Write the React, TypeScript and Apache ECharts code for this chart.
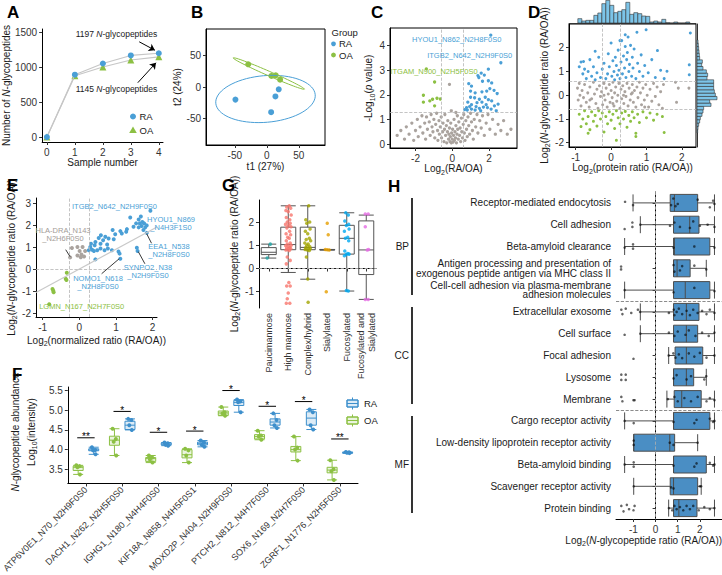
import React, { useEffect, useRef } from 'react';
import * as echarts from 'echarts';

const FONT = '"Liberation Sans", Arial, Helvetica, sans-serif';
const BLUE = '#4a9fd6';
const BLUE_F = '#3d8fcc';
const GREEN = '#8cc043';
const GRAY = '#aaa39e';
const GRAY_TXT = '#a39c97';
const HBOX = '#4a8ec4';
const HIST = '#7cc4e8';
const INK = '#1a1a1a';
const TICK = '#333';

// ---------------- A: cumulative identifications ----------------
const sampleNumbers = [0, 1, 2, 3, 4];
const raCumulative = [0, 890, 1050, 1165, 1197];
const oaCumulative = [0, 875, 1000, 1100, 1145];
const aArrowRA = [[3.3, 1360], [3.86, 1240]];
const aArrowOA = [[3.25, 776], [3.9, 1060]];

// ---------------- B: PLS-DA scores ----------------
const bScoresRA = [[-49, -20], [6.8, -40], [13.5, -15], [18.7, -3.7]];
const bScoresOA = [[-29, 36], [7.3, 17.5], [14, 18.5], [20.8, 11.6]];
const bEllipseRA = { cx: -2, cy: -19, rx: 78, ry: 37, deg: 5 };
const bEllipseOA = { cx: 3.2, cy: 21.4, rx: 61, ry: 3.5, deg: -24 };

// ---------------- C: volcano ----------------
const cUp = [[2.10, 4.42], [2.65, 3.30], [1.97, 3.04], [1.58, 2.88], [1.40, 2.78], [1.45, 2.70], [1.75, 2.80], [1.65, 2.55], [1.97, 2.57], [2.15, 2.48], [0.90, 2.45], [1.05, 2.35], [2.05, 2.25], [2.28, 2.18], [1.88, 2.15], [1.62, 2.12], [1.25, 2.08], [1.00, 2.15], [2.45, 2.05], [1.00, 1.90], [1.22, 1.88], [1.48, 1.82], [1.80, 1.90], [1.97, 1.80], [2.15, 1.75], [2.50, 1.62], [1.62, 1.70], [1.85, 1.60], [0.85, 1.70], [1.05, 1.60], [1.30, 1.52], [1.48, 1.45], [1.70, 1.50], [1.92, 1.48], [2.12, 1.42], [2.30, 1.55], [0.78, 1.48], [0.82, 1.38], [1.05, 1.42], [1.25, 1.38], [0.68, 1.40], [1.55, 1.35], [0.95, 1.52], [2.40, 1.35], [1.35, 1.68]];
const cDown = [[-1.41, 3.05], [-0.96, 2.52], [-1.57, 1.98], [-1.57, 1.70], [-1.07, 1.82], [-0.83, 1.86], [-0.65, 1.83], [-0.96, 1.55], [-1.22, 1.75]];
const cNs = [[-3.0, 0.35], [-2.8, 0.55], [-2.6, 0.2], [-2.5, 0.7], [-2.35, 0.4], [-2.2, 0.85], [-2.1, 0.15], [-2.0, 0.55], [-1.9, 1.0], [-1.85, 0.3], [-1.75, 0.7], [-1.65, 1.15], [-1.6, 0.45], [-1.5, 0.85], [-1.45, 0.2], [-1.4, 1.1], [-1.35, 0.6], [-1.25, 0.9], [-1.2, 0.35], [-1.15, 1.2], [-1.1, 0.7], [-1.05, 0.5], [-1.0, 1.0], [-0.95, 0.25], [-0.9, 0.8], [-0.85, 1.25], [-0.8, 0.55], [-0.78, 0.15], [-0.72, 0.95], [-0.7, 0.4], [-0.65, 0.7], [-0.6, 1.1], [-0.58, 0.25], [-0.52, 0.5], [-0.5, 0.85], [-0.45, 0.1], [-0.42, 0.6], [-0.4, 1.2], [-0.36, 0.35], [-0.32, 0.75], [-0.3, 0.05], [-0.26, 0.5], [-0.24, 0.95], [-0.2, 0.2], [-0.18, 0.4], [-0.15, 0.65], [-0.12, 0.1], [-0.1, 0.3], [-0.08, 0.85], [-0.05, 0.05], [-0.03, 0.45], [0.0, 0.2], [0.02, 0.6], [0.05, 0.08], [0.07, 0.35], [0.1, 1.0], [0.12, 0.15], [0.15, 0.5], [0.18, 0.25], [0.2, 0.75], [0.23, 0.05], [0.26, 0.4], [0.28, 1.15], [0.3, 0.6], [0.33, 0.2], [0.36, 0.9], [0.4, 0.35], [0.43, 0.65], [0.46, 0.1], [0.5, 1.05], [0.52, 0.5], [0.56, 0.25], [0.6, 0.8], [0.63, 1.2], [0.66, 0.45], [0.7, 0.15], [0.74, 0.95], [0.78, 0.6], [0.82, 0.3], [0.86, 1.1], [0.9, 0.75], [0.95, 0.4], [1.0, 1.25], [1.05, 0.9], [1.1, 0.55], [1.15, 0.2], [1.2, 1.0], [1.28, 0.7], [1.35, 1.2], [1.4, 0.45], [1.5, 0.95], [1.58, 0.65], [1.65, 1.15], [1.75, 0.35], [1.85, 0.85], [1.95, 1.2], [2.05, 0.6], [2.2, 1.0], [2.35, 0.4], [2.5, 0.8], [2.65, 0.55], [2.8, 0.95], [3.0, 0.4], [3.2, 0.6], [-0.15, 2.42], [-0.05, 1.35], [0.2, 1.28]];
const cLabels = [
  { text: 'HYOU1_N862_N2H8F0S0', x: 456.7, y: 39.5, color: BLUE },
  { text: 'ITGB2_N642_N2H9F0S0', x: 469.7, y: 55, color: BLUE },
  { text: 'ITGAM_N900_N2H5F0S0', x: 434, y: 71.7, color: GREEN },
];

// ---------------- D: glycopeptide vs protein ratio ----------------
const dUp = [[-0.9, 1.2], [-0.85, 1.4], [-0.8, 0.9], [-0.75, 1.1], [-0.7, 0.7], [-0.65, 1.0], [-0.6, 1.5], [-0.55, 0.8], [-0.5, 1.2], [-0.45, 0.65], [-0.4, 0.95], [-0.35, 1.6], [-0.3, 0.75], [-0.25, 1.1], [-0.2, 1.35], [-0.15, 0.7], [-0.1, 0.9], [-0.08, 1.75], [-0.05, 1.2], [0.0, 2.2], [0.02, 0.8], [0.05, 1.45], [0.08, 1.0], [0.1, 0.65], [0.12, 1.6], [0.15, 1.25], [0.18, 0.85], [0.2, 1.9], [0.22, 1.05], [0.25, 0.7], [0.28, 1.4], [0.3, 2.3], [0.32, 0.9], [0.35, 1.65], [0.38, 1.15], [0.4, 2.05], [0.42, 0.75], [0.44, 1.5], [0.46, 1.8], [0.48, 2.45], [0.5, 1.0], [0.52, 1.3], [0.55, 2.1], [0.58, 0.8], [0.6, 1.6], [0.62, 1.15], [0.65, 1.95], [0.7, 0.7], [0.73, 2.65], [0.75, 1.35], [0.8, 1.0], [0.85, 1.7], [0.9, 0.8], [0.95, 1.25], [0.99, 2.76], [1.05, 0.95], [1.15, 1.5], [1.25, 0.75], [1.31, 1.88], [1.4, 1.05], [1.5, 0.7], [1.58, 1.01], [2.21, 1.28], [2.21, 0.86], [2.24, 2.62], [-0.78, 1.42], [0.4, 2.55], [0.25, 2.3], [-0.45, 1.85]];
const dNs = [[-0.95, 0.3], [-0.93, -0.2], [-0.9, 0.5], [-0.88, 0.0], [-0.85, -0.45], [-0.82, 0.2], [-0.78, -0.1], [-0.75, 0.45], [-0.7, -0.3], [-0.66, 0.1], [-0.62, -0.5], [-0.6, 0.35], [-0.55, -0.15], [-0.5, 0.55], [-0.47, 0.05], [-0.43, -0.35], [-0.4, 0.25], [-0.37, -0.55], [-0.33, 0.4], [-0.3, -0.05], [-0.27, 0.15], [-0.24, -0.4], [-0.2, 0.5], [-0.17, -0.2], [-0.14, 0.3], [-0.11, -0.5], [-0.08, 0.05], [-0.05, 0.45], [-0.03, -0.3], [0.0, 0.2], [0.03, -0.1], [0.05, 0.55], [0.08, -0.45], [0.1, 0.1], [0.13, 0.35], [0.16, -0.25], [0.19, 0.0], [0.22, 0.5], [0.25, -0.55], [0.28, 0.25], [0.3, -0.15], [0.33, 0.4], [0.36, -0.35], [0.39, 0.15], [0.42, -0.05], [0.45, 0.5], [0.48, -0.45], [0.51, 0.3], [0.54, -0.2], [0.57, 0.05], [0.6, 0.45], [0.63, -0.3], [0.66, 0.2], [0.7, -0.5], [0.73, 0.35], [0.76, -0.1], [0.8, 0.55], [0.83, 0.1], [0.86, -0.4], [0.9, 0.3], [0.94, -0.2], [0.98, 0.45], [1.02, 0.0], [1.06, -0.5], [1.1, 0.25], [1.15, -0.25], [1.2, 0.5], [1.25, -0.05], [1.3, 0.35], [1.35, -0.4], [1.4, 0.15], [1.45, -0.55], [1.48, 0.45], [1.82, 0.55], [1.9, 0.3], [2.2, 0.3], [1.85, -0.3], [-0.2, 0.0], [0.35, 0.0], [0.6, 0.1], [-0.6, -0.2], [0.05, -0.35], [0.95, -0.5]];
const dDown = [[-0.9, -0.8], [-0.85, -1.32], [-0.8, -1.0], [-0.75, -0.65], [-0.7, -1.2], [-0.65, -0.9], [-0.6, -1.45], [-0.55, -0.7], [-0.5, -1.1], [-0.45, -0.85], [-0.4, -1.3], [-0.35, -0.65], [-0.3, -1.0], [-0.25, -0.75], [-0.2, -1.55], [-0.15, -0.9], [-0.1, -1.2], [-0.05, -0.7], [0.0, -1.05], [0.05, -0.8], [0.1, -1.4], [0.15, -0.65], [0.2, -0.95], [0.25, -1.2], [0.3, -0.75], [0.35, -1.0], [0.4, -0.68], [0.45, -1.35], [0.5, -0.85], [0.55, -1.1], [0.6, -0.7], [0.65, -0.95], [0.7, -1.74], [0.7, -1.6], [0.75, -0.8], [0.8, -1.15], [0.9, -0.7], [1.0, -0.95], [1.1, -0.75], [1.2, -1.05], [1.3, -0.8], [1.5, -1.57], [1.45, -0.9], [-0.65, -1.6], [0.15, -1.9]];
const dTopBinStart = -0.94;
const dTopBinWidth = 0.113;
const dTopCounts = [13, 6, 8, 8, 23, 30, 58, 68, 53, 31, 35, 40, 62, 26, 31, 28, 21, 20, 3, 6, 3, 11, 1, 0, 3, 0, 0, 3];
const dRightBinStart = -1.59;
const dRightBinWidth = 0.14;
const dRightCounts = [2, 3, 5, 8, 10, 15, 18, 20, 42, 38, 60, 55, 52, 50, 50, 50, 30, 32, 28, 18, 14, 16, 8, 7, 6, 5, 4, 3];

// ---------------- E: glycopeptide vs normalized ratio ----------------
const eUp = [[1.94, 2.66], [1.39, 2.36], [1.62, 2.27], [1.55, 2.09], [1.65, 2.09], [1.72, 2.15], [1.77, 2.09], [1.84, 2.0], [1.70, 1.97], [1.62, 1.91], [1.80, 1.91], [1.75, 1.79], [1.48, 1.94], [1.30, 1.83], [1.28, 1.71], [1.12, 1.74], [1.16, 1.63], [0.91, 1.79], [0.98, 1.60], [0.94, 1.37], [0.80, 1.41], [0.65, 1.33], [0.53, 1.43], [0.59, 1.55], [0.44, 1.25], [0.42, 1.10], [0.30, 1.02], [0.26, 0.87], [0.35, 0.90], [0.40, 0.84], [0.49, 0.87], [0.58, 0.95], [0.69, 0.87], [0.78, 0.95], [0.89, 0.87], [1.07, 0.82], [1.10, 0.72], [0.44, 0.46], [1.12, 0.49], [1.57, 0.99], [1.59, 0.84], [0.32, 1.17], [0.58, 1.17], [0.76, 1.13], [0.71, 1.48], [1.84, 1.66], [1.68, 2.4]];
const eNs = [[-0.25, 0.55], [-0.05, 1.02], [0.09, 1.02], [0.01, 0.84], [0.16, 0.84], [-0.05, 0.64], [0.06, 0.68], [0.13, 0.59], [0.04, 0.56], [-0.2, 0.98]];
const eDown = [[-0.34, -0.15], [-0.37, -0.42], [-0.35, -0.47], [-0.73, -0.88], [-0.71, -0.96], [-0.70, -1.03], [-0.82, -1.57]];
const eFitIntercept = 0.02;
const eFitSlope = 0.9;
const eConnectors = [
  [[-0.37, 0.9], [-0.25, 0.58]],
  [[1.84, 1.62], [1.97, 1.19]],
  [[1.61, 0.81], [1.79, 0.26]],
  [[1.09, 0.49], [0.61, -0.19]],
];
const eLabels = [
  { text: 'ITGB2_N642_N2H9F0S0', x: 114.5, y: 206, color: BLUE },
  { text: 'HYOU1_N869\n_N4H3F1S0', x: 171, y: 223.5, color: BLUE },
  { text: 'HLA-DRA_N143\n_N2H6F0S0', x: 63, y: 234.7, color: GRAY_TXT },
  { text: 'EEA1_N538\n_N2H8F0S0', x: 169, y: 250, color: BLUE },
  { text: 'SYNPO2_N38\n_N2H9F0S0', x: 148, y: 271.5, color: BLUE },
  { text: 'NOMO1_N618\n_N2H8F0S0', x: 98, y: 282.5, color: BLUE },
  { text: 'LGMN_N167_N2H7F0S0', x: 81.7, y: 306, color: GREEN },
];

// ---------------- G: glycan types ----------------
const gTypes = ['Paucimannose', 'High mannose', 'Complex/hybrid', 'Sialylated', 'Fucosylated', 'Fucosylated and\nSialylated'];
const gColors = ['#1fa6a6', '#f8766d', '#a3a500', '#e69f00', '#00a9f0', '#e56be3'];
const gBoxes = [
  [0.45, 0.6, 0.7, 0.9, 1.05],
  [-0.17, 0.81, 1.03, 1.78, 2.7],
  [-0.46, 0.81, 0.91, 1.78, 2.7],
  [0.8, 0.8, 0.81, 0.82, 0.82],
  [-0.97, 0.62, 1.3, 1.86, 2.4],
  [-1.33, -0.26, 0.8, 2.05, 2.3],
];
const gPoints = [[0.08, 1.05], [-0.08, 0.45],
  [1.05, 2.7], [0.92, 2.65], [1.12, 2.6], [0.88, 2.5], [1.0, 2.45], [1.15, 2.3], [0.9, 2.2], [1.08, 2.1], [0.95, 2.0], [1.1, 1.95], [0.86, 1.9], [1.02, 1.85], [1.14, 1.8], [0.93, 1.75], [1.07, 1.6], [0.89, 1.5], [1.12, 1.45], [0.97, 1.35], [1.05, 1.3], [0.9, 1.2], [1.1, 1.1], [0.95, 1.05], [1.15, 1.0], [0.87, 0.98], [1.02, 0.95], [1.08, 0.9], [0.92, 0.88], [1.13, 0.85], [0.98, 0.82], [0.88, 0.8], [1.05, 0.78], [0.95, 0.5], [1.1, 0.35], [0.9, 0.2], [1.03, -0.6], [0.92, -0.75], [1.1, -0.75], [1.0, -1.05], [0.95, -1.3], [0.9, -1.5], [1.08, -1.5],
  [2.05, 2.7], [1.9, 2.1], [2.1, 2.0], [1.95, 1.95], [2.12, 1.7], [1.88, 1.6], [2.0, 1.5], [2.08, 1.3], [1.92, 1.25], [2.15, 1.2], [1.85, 1.1], [2.02, 1.05], [1.95, 1.0], [2.1, 0.95], [1.9, 0.9], [2.05, 0.88], [2.13, 0.85], [1.87, 0.82], [1.98, 0.8], [2.08, 0.78], [1.93, 0.5], [2.0, -0.45], [2.02, -1.45],
  [3.0, 1.95], [3.05, 1.45], [2.9, 0.82], [3.1, 0.8], [3.0, 0.81], [2.95, -1.0],
  [3.95, 2.4], [4.08, 2.3], [3.9, 2.05], [4.1, 1.9], [3.98, 1.85], [4.12, 1.7], [3.88, 1.6], [4.05, 1.35], [3.93, 1.3], [4.1, 1.2], [3.9, 0.75], [4.05, 0.65], [3.97, 0.6], [4.12, 0.62], [3.88, 0.55], [3.98, -0.95], [4.08, -0.97],
  [4.95, 2.35], [5.1, 2.35], [4.95, 1.8], [5.05, 0.8], [5.12, 0.82], [4.95, -1.33], [5.1, -1.33]];

// ---------------- F: abundance boxplots ----------------
const fNames = ['ATP6V0E1_N70_N2H9F0S0', 'DACH1_N262_N2H5F0S0', 'IGHG1_N180_N4H4F0S0', 'KIF18A_N858_N4H5F0S1', 'MOXD2P_N404_N2H9F0S0', 'PTCH2_N812_N4H7F0S0', 'SOX6_N169_N2H7F0S0', 'ZGRF1_N1776_N2H5F0S0'];
const fBoxOA = [[3.37, 3.47, 3.55, 3.58, 3.6], [3.85, 4.11, 4.24, 4.34, 4.53], [3.67, 3.70, 3.77, 3.80, 3.85], [3.67, 3.79, 3.87, 4.0, 4.02], [4.86, 4.87, 4.93, 4.98, 5.08], [4.25, 4.27, 4.33, 4.38, 4.48], [3.72, 3.94, 4.0, 4.08, 4.33], [3.23, 3.41, 3.48, 3.55, 3.73]];
const fBoxRA = [[3.88, 3.97, 3.99, 4.02, 4.06], [4.5, 4.51, 4.62, 4.72, 4.78], [4.1, 4.12, 4.14, 4.17, 4.18], [4.07, 4.12, 4.15, 4.19, 4.23], [4.95, 5.12, 5.2, 5.25, 5.27], [4.55, 4.62, 4.7, 4.78, 4.92], [4.51, 4.62, 4.8, 4.96, 5.02], [3.91, 3.91, 3.92, 3.93, 3.94]];
const fPtsOA = [[3.6, 3.58, 3.55, 3.37], [4.53, 4.27, 4.2, 3.85], [3.85, 3.8, 3.75, 3.67], [4.02, 3.98, 3.85, 3.67], [5.08, 4.95, 4.92, 4.86], [4.48, 4.36, 4.33, 4.25], [4.33, 4.05, 4.0, 3.72], [3.73, 3.5, 3.45, 3.23]];
const fPtsRA = [[4.06, 3.99, 3.98, 3.88], [4.78, 4.75, 4.62, 4.5], [4.18, 4.16, 4.12, 4.1], [4.23, 4.18, 4.12, 4.07], [5.27, 5.22, 5.2, 4.95], [4.92, 4.75, 4.62, 4.55], [5.02, 4.95, 4.62, 4.51], [3.94, 3.93, 3.92, 3.91]];
const fJitter = [-0.05, 0.04, -0.02, 0.05];
const fSigY = [4.3, 4.97, 4.44, 4.47, 5.5, 5.1, 5.22, 4.27];
const fSigLabel = ['**', '*', '*', '*', '*', '*', '*', '**'];

// ---------------- H: GO terms ----------------
const hTerms = ['Receptor-mediated endocytosis', 'Cell adhesion', 'Beta-amyloid clearance', 'Antigen processing and presentation of\nexogenous peptide antigen via MHC class II', 'Cell-cell adhesion via plasma-membrane\nadhesion molecules', 'Extracellular exosome', 'Cell surface', 'Focal adhesion', 'Lysosome', 'Membrane', 'Cargo receptor activity', 'Low-density lipoprotein receptor activity', 'Beta-amyloid binding', 'Scavenger receptor activity', 'Protein binding'];
const hBoxes = [
  [-1.02, 0.66, 0.85, 1.9, 2.66], [-0.69, 0.81, 1.54, 1.96, 2.66], [-1.4, 0.81, 0.85, 2.45, 2.66], [0.81, 0.81, 0.97, 1.56, 2.29], [-1.4, 0.81, 1.34, 2.45, 2.66],
  [-0.69, 0.81, 1.39, 1.96, 2.66], [-0.69, 0.81, 1.39, 1.9, 2.66], [0.59, 0.88, 1.39, 2.13, 2.66], [0.81, 0.81, 1.39, 1.72, 2.29], [0.51, 0.84, 1.18, 2.06, 2.66],
  [-1.4, 0.81, 0.81, 2.45, 2.66], [-0.99, -0.99, 0.64, 0.86, 1.9], [-1.4, 0.81, 0.81, 2.29, 2.66], [-0.99, 0.66, 0.81, 1.9, 2.06], [0.59, 0.81, 1.05, 1.87, 2.66],
];
const hPoints = [
  [[-1.38, -0.05], [-1.02, 0.1], [0.7, 0.1], [0.8, -0.2], [0.9, 0.15], [1.0, 0.05], [1.9, -0.15], [2.45, 0.2], [2.6, -0.1], [2.66, 0.05]],
  [[-1.4, 0.2], [-1.05, 0.1], [-1.05, -0.1], [-0.69, 0], [0.65, 0.05], [0.85, -0.1], [1.1, 0.1], [1.55, 0.15], [1.7, -0.15], [2.0, 0.05], [2.35, 0.0], [2.66, 0.1]],
  [[-1.4, 0.05], [-1.02, 0.1], [-1.02, -0.1], [0.81, 0.05], [1.75, 0], [2.66, 0.05]],
  [[-1.56, 0.05], [-1.56, -0.08], [0.81, -0.15], [0.85, 0.15], [1.1, 0.1], [1.2, -0.1], [1.75, -0.12], [2.29, 0.05]],
  [[-1.4, 0], [0.81, 0.1], [1.75, -0.1], [2.66, 0.05]],
  [[-1.55, -0.1], [-1.5, 0.1], [-1.35, -0.15], [-1.1, 0.05], [-0.7, 0.0], [-0.8, -0.1], [0.6, 0.05], [0.82, -0.1], [0.85, 0.15], [0.95, 0.0], [1.05, -0.15], [1.2, 0.1], [1.4, -0.05], [1.55, 0.15], [1.7, -0.1], [1.9, 0.05], [2.1, -0.05], [2.3, 0.1], [2.45, -0.1], [2.66, 0.05]],
  [[-1.4, 0.05], [-0.69, 0.0], [0.6, -0.05], [0.85, 0.1], [1.0, -0.1], [1.35, 0.05], [1.5, -0.15], [1.8, 0.1], [2.1, -0.05], [2.4, 0.1], [2.66, -0.05]],
  [[-1.0, 0.15], [0.59, 0.0], [0.8, -0.1], [0.9, 0.1], [1.05, -0.05], [1.2, 0.12], [1.5, -0.1], [1.75, 0.05], [2.0, -0.12], [2.3, 0.1], [2.66, 0.0]],
  [[-1.55, -0.12], [-1.35, -0.12], [-1.55, 0.12], [-1.35, 0.12], [0.81, 0.05], [0.95, -0.1], [1.4, 0.1], [1.6, -0.05], [2.2, 0.1], [2.29, -0.05]],
  [[-1.55, -0.1], [-1.5, 0.1], [-1.0, 0.05], [-0.95, 0.05], [0.55, 0.0], [0.85, -0.1], [1.0, 0.1], [1.3, -0.05], [1.6, 0.1], [1.9, -0.1], [2.3, 0.1], [2.45, -0.05], [2.66, 0.05]],
  [[-1.4, 0], [-0.99, 0.1], [0.81, 0.05], [1.75, 0.1], [1.85, -0.05], [2.45, -0.1], [2.6, 0.05], [2.66, 0.0]],
  [[-0.99, -0.1], [-0.99, 0.1], [0.64, 0.0], [0.81, 0.1], [1.9, 0.0]],
  [[-1.4, 0.0], [-0.99, 0.1], [-0.99, -0.1], [0.81, 0.05], [1.75, 0.1], [1.85, -0.05], [2.45, -0.08], [2.6, 0.05], [2.66, 0.0]],
  [[-0.99, 0.0], [0.7, 0.05], [0.81, 0.1], [2.0, 0.0], [2.06, 0.0]],
  [[-1.55, -0.1], [-1.45, 0.15], [-1.3, -0.15], [-1.2, 0.05], [-1.0, 0.1], [-0.95, -0.1], [0.6, 0.0], [0.75, 0.1], [0.85, -0.1], [0.95, 0.05], [1.1, -0.05], [1.25, 0.1], [1.4, -0.1], [1.55, 0.05], [1.7, -0.1], [1.95, 0.1], [2.2, -0.05], [2.45, 0.05], [2.66, 0.0]],
];
const hGroups = [
  { name: 'BP', from: 0, to: 4 },
  { name: 'CC', from: 5, to: 9 },
  { name: 'MF', from: 10, to: 14 },
];

// ---------------- helpers ----------------
function rich(fs: number, color = INK) {
  const sub = Math.round(fs * 0.7);
  return {
    n: { fontSize: fs, fontFamily: FONT, color, fill: color, lineHeight: fs + 4 },
    i: { fontSize: fs, fontFamily: FONT, color, fill: color, fontStyle: 'italic', lineHeight: fs + 4 },
    s: { fontSize: sub, fontFamily: FONT, color, fill: color, verticalAlign: 'bottom', lineHeight: sub + 1 },
  };
}

function vAxis(gridIndex: number, min: number, max: number, ticks: number[], o: any = {}) {
  return {
    type: 'value', gridIndex, min, max, inverse: !!o.inverse,
    axisLine: { show: true, onZero: false, lineStyle: { color: '#000', width: 1 } },
    axisTick: { show: true, length: 3, customValues: ticks, lineStyle: { color: TICK } },
    axisLabel: { fontSize: 10, color: TICK, fontFamily: FONT, margin: 5, customValues: ticks, formatter: o.fmt || ((v: number) => String(v)) },
    splitLine: { show: false },
    name: o.name, nameLocation: 'middle', nameGap: o.gap,
    nameTextStyle: { rich: rich(10) },
  };
}

function hiddenAxis(gridIndex: number, min: number, max: number, inverse = false) {
  return { type: 'value', gridIndex, min, max, inverse, show: false, splitLine: { show: false } };
}

function ellipsePts(e: any) {
  const th = (e.deg * Math.PI) / 180;
  const pts: number[][] = [];
  for (let k = 0; k <= 72; k++) {
    const t = (k / 72) * Math.PI * 2;
    pts.push([
      e.cx + e.rx * Math.cos(t) * Math.cos(th) - e.ry * Math.sin(t) * Math.sin(th),
      e.cy + e.rx * Math.cos(t) * Math.sin(th) + e.ry * Math.sin(t) * Math.cos(th),
    ]);
  }
  return pts;
}

function txt(text: string, x: number, y: number, o: any = {}) {
  const align = o.align || 'left';
  const va = o.va || 'middle';
  return {
    type: 'text', x, y, rotation: o.rot || 0, silent: true, z: 100,
    style: {
      text, fill: o.color || INK, fontSize: o.size || 10, fontFamily: FONT,
      fontWeight: o.weight || 'normal', fontStyle: o.italic ? 'italic' : 'normal',
      align, textAlign: align, verticalAlign: va, textVerticalAlign: va,
      lineHeight: o.lh, rich: o.rich,
    },
  };
}

const dashed = (color = '#b5b5b5') => ({ type: 'dashed', color, width: 0.8 });

function refLines(data: any[], color?: string) {
  return { silent: true, symbol: ['none', 'none'], label: { show: false }, lineStyle: dashed(color), data, animation: false };
}

function buildOption() {
  const grid = [
    { left: 39, top: 29, width: 124, height: 113 },
    { left: 206, top: 29, width: 119, height: 116, show: true, borderColor: '#000', borderWidth: 1, backgroundColor: 'transparent' },
    { left: 390, top: 28, width: 127, height: 120, show: true, borderColor: '#000', borderWidth: 1, backgroundColor: 'transparent' },
    { left: 569, top: 24, width: 127, height: 123, show: true, borderColor: '#000', borderWidth: 1, backgroundColor: 'transparent' },
    { left: 569, top: 0, width: 127, height: 23 },
    { left: 697, top: 24, width: 22, height: 123 },
    { left: 36, top: 198, width: 121, height: 119 },
    { left: 259, top: 200, width: 117, height: 108 },
    { left: 58, top: 387, width: 300, height: 103 },
    { left: 616, top: 192, width: 106, height: 327 },
  ];

  const log2Ratio = '{n|Log}{s|2}{n|(}{i|N}{n|-glycopeptide ratio (RA/OA))}';

  const xAxis: any[] = [
    vAxis(0, -0.17, 4.15, [0, 1, 2, 3, 4], { name: '{n|Sample number}', gap: 13 }),
    vAxis(1, -95, 91, [-50, 0, 50], { name: '{n|t1 (27%)}', gap: 14 }),
    vAxis(2, -3.39, 3.53, [-2, 0, 2], { name: '{n|Log}{s|2}{n|(RA/OA)}', gap: 13 }),
    vAxis(3, -1.19, 2.4, [-1, 0, 1, 2], { name: '{n|Log}{s|2}{n|(protein ratio (RA/OA))}', gap: 13 }),
    {
      type: 'value', gridIndex: 4, min: -1.19, max: 2.4,
      axisLine: { show: true, onZero: false, lineStyle: { color: '#333', width: 1 } },
      axisTick: { show: false }, axisLabel: { show: false }, splitLine: { show: false },
    },
    hiddenAxis(5, 0, 66),
    vAxis(6, -1.18, 2.12, [-1, 0, 1, 2], { name: '{n|Log}{s|2}{n|(normalized ratio (RA/OA))}', gap: 16 }),
    {
      type: 'category', gridIndex: 7, data: gTypes, boundaryGap: true,
      axisLine: { show: true, lineStyle: { color: '#000', width: 1 } },
      axisTick: { show: true, alignWithLabel: true, length: 3, lineStyle: { color: TICK } },
      axisLabel: { rotate: 90, interval: 0, fontSize: 9, lineHeight: 11, color: TICK, fontFamily: FONT, margin: 5 },
      splitLine: { show: false },
    },
    hiddenAxis(7, -0.5, 5.5),
    {
      type: 'category', gridIndex: 8, data: fNames, boundaryGap: true,
      axisLine: { show: true, lineStyle: { color: '#000', width: 1 } },
      axisTick: { show: true, alignWithLabel: true, length: 3, lineStyle: { color: TICK } },
      axisLabel: { rotate: 45, interval: 0, fontSize: 9, color: TICK, fontFamily: FONT, margin: 5 },
      splitLine: { show: false },
    },
    hiddenAxis(8, -0.5, 7.5),
    vAxis(9, -1.79, 3.0, [-1, 0, 1, 2], {}),
  ];

  const yAxis: any[] = [
    vAxis(0, -71, 1543, [0, 500, 1000, 1500], { name: '{n|Number of }{i|N}{n|-glycopeptides}', gap: 26 }),
    vAxis(1, -92, 92, [-50, 0, 50], { name: '{n|t2 (24%)}', gap: 16 }),
    vAxis(2, -0.16, 4.71, [0, 1, 2, 3, 4], { name: '{n|-Log}{s|10}{n|(}{i|p}{n| value)}', gap: 12 }),
    vAxis(3, -2.18, 3.0, [-2, -1, 0, 1, 2], { name: log2Ratio, gap: 14 }),
    hiddenAxis(4, 0, 69),
    {
      type: 'value', gridIndex: 5, min: -2.18, max: 3.0,
      axisLine: { show: true, onZero: false, lineStyle: { color: '#333', width: 1 } },
      axisTick: { show: false }, axisLabel: { show: false }, splitLine: { show: false },
    },
    vAxis(6, -2.15, 3.24, [-2, -1, 0, 1, 2, 3], { name: log2Ratio, gap: 14 }),
    vAxis(7, -1.7, 2.95, [-1, 0, 1, 2], { name: log2Ratio, gap: 13 }),
    vAxis(8, 3.14, 5.59, [3.5, 4, 4.5, 5, 5.5], { fmt: (v: number) => v.toFixed(1) }),
    {
      type: 'category', gridIndex: 9, data: hTerms, inverse: true, boundaryGap: true,
      axisLine: { show: true, lineStyle: { color: '#000', width: 1 } },
      axisTick: { show: true, alignWithLabel: true, length: 3, lineStyle: { color: TICK } },
      axisLabel: { interval: 0, fontSize: 10, lineHeight: 9.5, color: INK, fontFamily: FONT, margin: 5, align: 'right' },
      splitLine: { show: false },
    },
    hiddenAxis(9, -0.5, 14.5, true),
  ];

  const series: any[] = [];

  // ---- A
  series.push({
    type: 'line', xAxisIndex: 0, yAxisIndex: 0, z: 3,
    data: sampleNumbers.map((s, i) => [s, oaCumulative[i]]),
    symbol: 'triangle', symbolSize: 7, lineStyle: { color: '#c6c6c6', width: 1.2 }, itemStyle: { color: GREEN },
    markLine: {
      silent: true, symbol: ['none', 'arrow'], symbolSize: 6, label: { show: false },
      lineStyle: { color: '#000', width: 1, type: 'solid' },
      data: [
        [{ coord: aArrowRA[0] }, { coord: aArrowRA[1] }],
        [{ coord: aArrowOA[0] }, { coord: aArrowOA[1] }],
      ],
    },
  });
  series.push({
    type: 'line', xAxisIndex: 0, yAxisIndex: 0, z: 4,
    data: sampleNumbers.map((s, i) => [s, raCumulative[i]]),
    symbol: 'circle', symbolSize: 6, lineStyle: { color: '#c6c6c6', width: 1.2 }, itemStyle: { color: BLUE },
  });

  // ---- B
  series.push({
    type: 'line', xAxisIndex: 1, yAxisIndex: 1, data: ellipsePts(bEllipseRA), showSymbol: false, symbol: 'none',
    lineStyle: { color: BLUE, width: 1 }, silent: true,
  });
  series.push({
    type: 'line', xAxisIndex: 1, yAxisIndex: 1, data: ellipsePts(bEllipseOA), showSymbol: false, symbol: 'none',
    lineStyle: { color: GREEN, width: 1 }, silent: true,
  });
  series.push({ type: 'scatter', xAxisIndex: 1, yAxisIndex: 1, data: bScoresRA, symbolSize: 6, itemStyle: { color: BLUE, opacity: 1 } });
  series.push({ type: 'scatter', xAxisIndex: 1, yAxisIndex: 1, data: bScoresOA, symbolSize: 6, itemStyle: { color: GREEN, opacity: 1 } });

  // ---- C
  series.push({
    type: 'scatter', xAxisIndex: 2, yAxisIndex: 2, data: cNs, symbolSize: 3.3, itemStyle: { color: GRAY, opacity: 1 },
    markLine: refLines([{ xAxis: -0.585 }, { xAxis: 0.585 }, { yAxis: 1.3 }]),
  });
  series.push({ type: 'scatter', xAxisIndex: 2, yAxisIndex: 2, data: cDown, symbolSize: 3.3, itemStyle: { color: GREEN, opacity: 1 } });
  series.push({ type: 'scatter', xAxisIndex: 2, yAxisIndex: 2, data: cUp, symbolSize: 3.3, itemStyle: { color: BLUE, opacity: 1 } });

  // ---- D
  series.push({
    type: 'scatter', xAxisIndex: 3, yAxisIndex: 3, data: dNs, symbolSize: 3, itemStyle: { color: GRAY, opacity: 1 },
    markLine: refLines([{ xAxis: -0.26 }, { xAxis: 0.26 }, { yAxis: 0.585 }, { yAxis: -0.585 }]),
  });
  series.push({ type: 'scatter', xAxisIndex: 3, yAxisIndex: 3, data: dDown, symbolSize: 3, itemStyle: { color: GREEN, opacity: 1 } });
  series.push({ type: 'scatter', xAxisIndex: 3, yAxisIndex: 3, data: dUp, symbolSize: 3, itemStyle: { color: BLUE, opacity: 1 } });
  series.push({
    type: 'custom', xAxisIndex: 4, yAxisIndex: 4, silent: true,
    data: dTopCounts.map((c, i) => [dTopBinStart + i * dTopBinWidth, dTopBinStart + (i + 1) * dTopBinWidth, c]),
    encode: { x: [0, 1], y: 2 },
    renderItem: (_p: any, api: any) => {
      const a = api.coord([api.value(0), 0]);
      const b = api.coord([api.value(1), api.value(2)]);
      return { type: 'rect', shape: { x: a[0], y: b[1], width: b[0] - a[0], height: a[1] - b[1] }, style: { fill: HIST, stroke: '#333', lineWidth: 0.6 } };
    },
  });
  series.push({
    type: 'custom', xAxisIndex: 5, yAxisIndex: 5, silent: true,
    data: dRightCounts.map((c, i) => [c, dRightBinStart + i * dRightBinWidth, dRightBinStart + (i + 1) * dRightBinWidth]),
    encode: { x: 0, y: [1, 2] },
    renderItem: (_p: any, api: any) => {
      const a = api.coord([0, api.value(1)]);
      const b = api.coord([api.value(0), api.value(2)]);
      return { type: 'rect', shape: { x: a[0], y: b[1], width: b[0] - a[0], height: a[1] - b[1] }, style: { fill: HIST, stroke: '#333', lineWidth: 0.6 } };
    },
  });

  // ---- E
  const eXmin = -1.18, eXmax = 2.12;
  series.push({
    type: 'line', xAxisIndex: 6, yAxisIndex: 6, symbol: 'none', silent: true,
    data: [[eXmin, eFitIntercept + eFitSlope * eXmin], [eXmax, eFitIntercept + eFitSlope * eXmax]],
    lineStyle: { color: '#c9c9c9', width: 1.2 },
    markLine: refLines([{ xAxis: -0.26 }, { xAxis: 0.26 }, { yAxis: 0 }]),
  });
  series.push({ type: 'scatter', xAxisIndex: 6, yAxisIndex: 6, data: eNs, symbolSize: 4, itemStyle: { color: GRAY, opacity: 1 } });
  series.push({ type: 'scatter', xAxisIndex: 6, yAxisIndex: 6, data: eDown, symbolSize: 4, itemStyle: { color: GREEN, opacity: 1 } });
  series.push({
    type: 'scatter', xAxisIndex: 6, yAxisIndex: 6, data: eUp, symbolSize: 4, itemStyle: { color: BLUE, opacity: 1 },
    markLine: {
      silent: true, symbol: ['none', 'none'], label: { show: false },
      lineStyle: { color: '#222', width: 0.9, type: 'solid' },
      data: eConnectors.map((c) => [{ coord: c[0] }, { coord: c[1] }]),
    },
  });

  // ---- G
  series.push({
    type: 'boxplot', xAxisIndex: 7, yAxisIndex: 7, data: gBoxes, boxWidth: [15, 15],
    itemStyle: { color: 'rgba(255,255,255,0)', borderColor: '#555', borderWidth: 1 },
    markLine: refLines([{ yAxis: 0 }], '#c4c4c4'),
  });
  series.push({
    type: 'scatter', xAxisIndex: 8, yAxisIndex: 7, symbolSize: 3.5, z: 5,
    data: gPoints.map((p) => ({ value: p, itemStyle: { color: gColors[Math.round(p[0])] } })),
  });

  // ---- F
  series.push({
    type: 'boxplot', name: 'OA', xAxisIndex: 9, yAxisIndex: 8, data: fBoxOA, boxWidth: [10, 10],
    itemStyle: { color: 'rgba(140,192,67,0.18)', borderColor: GREEN, borderWidth: 1 },
  });
  series.push({
    type: 'boxplot', name: 'RA', xAxisIndex: 9, yAxisIndex: 8, data: fBoxRA, boxWidth: [10, 10],
    itemStyle: { color: 'rgba(61,143,204,0.18)', borderColor: BLUE_F, borderWidth: 1 },
  });
  const fOff = 0.215;
  const fOA: number[][] = [];
  const fRA: number[][] = [];
  fPtsOA.forEach((vals, i) => vals.forEach((v, k) => fOA.push([i - fOff + fJitter[k], v])));
  fPtsRA.forEach((vals, i) => vals.forEach((v, k) => fRA.push([i + fOff + fJitter[k], v])));
  series.push({ type: 'scatter', xAxisIndex: 10, yAxisIndex: 8, data: fOA, symbolSize: 4, z: 5, itemStyle: { color: GREEN, opacity: 1 } });
  series.push({ type: 'scatter', xAxisIndex: 10, yAxisIndex: 8, data: fRA, symbolSize: 4, z: 5, itemStyle: { color: BLUE_F, opacity: 1 } });
  series.push({
    type: 'custom', xAxisIndex: 10, yAxisIndex: 8, silent: true, z: 6,
    data: fSigY.map((y, i) => [i, y]),
    renderItem: (params: any, api: any) => {
      const a = api.coord([api.value(0) - 0.24, api.value(1)]);
      const b = api.coord([api.value(0) + 0.24, api.value(1)]);
      return {
        type: 'group',
        children: [
          { type: 'line', shape: { x1: a[0], y1: a[1], x2: b[0], y2: b[1] }, style: { stroke: '#000', lineWidth: 1 } },
          {
            type: 'text',
            style: {
              text: fSigLabel[params.dataIndex], x: (a[0] + b[0]) / 2, y: a[1] + 4,
              align: 'center', textAlign: 'center', verticalAlign: 'bottom', textVerticalAlign: 'bottom',
              fontSize: 10, fontFamily: FONT, fill: '#000',
            },
          },
        ],
      };
    },
  });

  // ---- H
  series.push({
    type: 'boxplot', xAxisIndex: 11, yAxisIndex: 9, data: hBoxes, boxWidth: [17, 17],
    itemStyle: { color: HBOX, borderColor: '#4d4d4d', borderWidth: 1 },
  });
  const hPts: number[][] = [];
  hPoints.forEach((row, r) => row.forEach((p) => hPts.push([p[0], r + p[1]])));
  series.push({
    type: 'scatter', xAxisIndex: 11, yAxisIndex: 10, data: hPts, symbolSize: 2.6, z: 5,
    itemStyle: { color: 'rgba(0,0,0,0.75)' },
    markLine: {
      silent: true, symbol: ['none', 'none'], label: { show: false }, animation: false,
      data: [
        { xAxis: 0, lineStyle: dashed('#b0b0b0') },
        { yAxis: 4.5, lineStyle: dashed('#6e6e6e') },
        { yAxis: 9.5, lineStyle: dashed('#6e6e6e') },
      ],
    },
  });

  // ---- graphic annotations
  const graphic: any[] = [];
  const letters: [string, number, number][] = [['A', 7, 4], ['B', 191, 4], ['C', 371, 4], ['D', 528, 4], ['E', 7, 177], ['G', 222, 177], ['F', 12, 366], ['H', 388, 178]];
  letters.forEach(([t, x, y]) => graphic.push(txt(t, x, y, { size: 17, weight: 'bold', va: 'top', color: '#000' })));

  // A annotations & legend
  graphic.push(txt('{n|1197 }{i|N}{n|-glycopeptides}', 116.5, 34, { align: 'center', rich: rich(8.5) }));
  graphic.push(txt('{n|1145 }{i|N}{n|-glycopeptides}', 116.5, 89, { align: 'center', rich: rich(8.5) }));
  graphic.push({ type: 'circle', shape: { cx: 133, cy: 116.5, r: 3 }, style: { fill: BLUE }, silent: true, z: 100 });
  graphic.push({ type: 'polygon', shape: { points: [[133, 126.5], [136.8, 133], [129.2, 133]] }, style: { fill: GREEN }, silent: true, z: 100 });
  graphic.push(txt('RA', 139.5, 116.5, { size: 9.5 }));
  graphic.push(txt('OA', 139.5, 130.3, { size: 9.5 }));

  // B legend
  graphic.push(txt('Group', 331.5, 32.3, { size: 9.5 }));
  graphic.push({ type: 'circle', shape: { cx: 333.5, cy: 43.8, r: 2.4 }, style: { fill: BLUE }, silent: true, z: 100 });
  graphic.push({ type: 'circle', shape: { cx: 333.5, cy: 55, r: 2.4 }, style: { fill: GREEN }, silent: true, z: 100 });
  graphic.push(txt('RA', 339, 43.8, { size: 9.5 }));
  graphic.push(txt('OA', 339, 55, { size: 9.5 }));

  // C labels
  cLabels.forEach((l) => graphic.push(txt(l.text, l.x, l.y, { align: 'center', size: 7.5, color: l.color })));

  // E labels
  eLabels.forEach((l) => graphic.push(txt(l.text, l.x, l.y, { align: 'center', size: 7.5, color: l.color, lh: 8 })));

  // F y title and legend
  graphic.push(txt('{i|N}{n|-glycopeptide abundance}', 15, 432, { align: 'center', rot: Math.PI / 2, rich: rich(10) }));
  graphic.push(txt('{n|Log}{s|10}{n|(intensity)}', 31, 432, { align: 'center', rot: Math.PI / 2, rich: rich(10) }));
  const fLegend: [string, string, string, number][] = [['RA', BLUE_F, 'rgba(61,143,204,0.18)', 403.5], ['OA', GREEN, 'rgba(140,192,67,0.18)', 420.5]];
  fLegend.forEach(([name, col, fill, cy]) => {
    graphic.push({ type: 'line', shape: { x1: 352.5, y1: cy - 6, x2: 352.5, y2: cy + 6 }, style: { stroke: col, lineWidth: 1 }, silent: true, z: 99 });
    graphic.push({ type: 'rect', shape: { x: 347, y: cy - 3.5, width: 11, height: 7 }, style: { fill: '#fff', stroke: col, lineWidth: 1 }, silent: true, z: 100 });
    graphic.push({ type: 'rect', shape: { x: 347, y: cy - 3.5, width: 11, height: 7 }, style: { fill, stroke: col, lineWidth: 1 }, silent: true, z: 101 });
    graphic.push({ type: 'line', shape: { x1: 347, y1: cy, x2: 358, y2: cy }, style: { stroke: col, lineWidth: 1 }, silent: true, z: 102 });
    graphic.push(txt(name, 364, cy, { size: 9.5 }));
  });

  // H title, groups
  graphic.push(txt('{n|Log}{s|2}{n|(}{i|N}{n|-glycopeptide ratio (RA/OA))}', 643.7, 540, { align: 'center', rich: rich(10) }));
  const hTop = 192, hRowH = 327 / hTerms.length;
  hGroups.forEach((g) => {
    const y0 = hTop + g.from * hRowH + 6;
    const y1 = hTop + (g.to + 1) * hRowH - 6;
    graphic.push({ type: 'line', shape: { x1: 412, y1: y0, x2: 412, y2: y1 }, style: { stroke: '#000', lineWidth: 1.6 }, silent: true, z: 100 });
    graphic.push(txt(g.name, 409, (y0 + y1) / 2, { align: 'right', size: 10 }));
  });

  return {
    animation: false,
    backgroundColor: '#fff',
    textStyle: { fontFamily: FONT },
    grid, xAxis, yAxis, series, graphic,
  };
}

export default function App() {
  const ref = useRef<HTMLDivElement>(null);
  useEffect(() => {
    const chart = echarts.init(ref.current!, null, { renderer: 'svg' });
    chart.setOption(buildOption() as any);
    return () => chart.dispose();
  }, []);
  return <div ref={ref} style={{ position: 'fixed', left: 0, top: 0, width: 722, height: 575, background: '#fff' }} />;
}
